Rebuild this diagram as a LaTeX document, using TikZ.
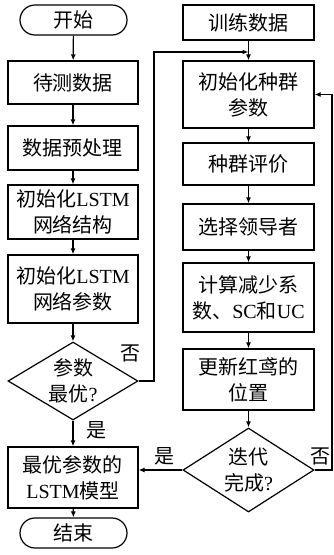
\documentclass[tikz,border=0pt]{standalone}
\usepackage{fontspec}
\setmainfont{Noto Sans CJK SC}
\newfontfamily\lat{Liberation Serif}
\usetikzlibrary{shapes.geometric,arrows.meta}
\begin{document}
\begin{tikzpicture}[x=1pt,y=-1pt,
  every node/.style={font=\fontsize{20}{26}\selectfont},
  box/.style={draw,rectangle,line width=1.2pt,align=center,inner sep=0pt,minimum width=130pt},
  term/.style={draw,rectangle,rounded corners=15pt,line width=1.2pt,inner sep=0pt,minimum width=107pt,minimum height=30pt},
  dec/.style={draw,diamond,line width=1.2pt,inner sep=0pt,minimum width=130pt,minimum height=#1},
  lbl/.style={inner sep=0pt},
  arr/.style={draw,line width=1.2pt,-{Latex[length=6pt,width=5pt]}},
  ln/.style={draw,line width=1.2pt}]
\useasboundingbox (0,0) rectangle (334,555);
% left column
\node[term] (s) at (73.5,20) {开始};
\node[box,minimum height=43pt] (d1) at (73,82.5) {待测数据};
\node[box,minimum height=44pt] (d2) at (73,148) {数据预处理};
\node[box,minimum height=54pt] (d3) at (73,212) {初始化{\lat LSTM}\\网络结构};
\node[box,minimum height=68pt] (d4) at (73,289) {初始化{\lat LSTM}\\网络参数};
\node[dec=78pt] (q1) at (73,381) {};
\node[lbl,align=center] (q1t) at (q1) {参数\\最优{\lat ?}};
\node[box,minimum height=61pt] (d5) at (73,477.5) {最优参数的\\{\lat LSTM}模型};
\node[term] (e) at (73.5,533) {结束};
% right column
\node[box,minimum width=131pt,minimum height=35pt] (r0) at (248.5,22.5) {训练数据};
\node[box,minimum width=131pt,minimum height=67pt] (r1) at (248.5,94.5) {初始化种群\\参数};
\node[box,minimum width=131pt,minimum height=42pt] (r2) at (248.5,164) {种群评价};
\node[box,minimum width=131pt,minimum height=46pt] (r3) at (248.5,227) {选择领导者};
\node[box,minimum width=131pt,minimum height=69pt] (r4) at (248.5,297.5) {计算减少系\\数、{\lat SC}和{\lat UC}};
\node[box,minimum width=131pt,minimum height=61pt] (r5) at (248.5,379.5) {更新红鸢的\\位置};
\node[dec=84pt,minimum width=131pt] (q2) at (248.5,470) {};
\node[lbl,align=center] (q2t) at (q2) {迭代\\完成{\lat ?}};
% labels
\node[lbl] (no1) at (130,353) {否};
\node[lbl] (yes1) at (96,430) {是};
\node[lbl] (yes2) at (164,456) {是};
\node[lbl] (no2) at (320,456) {否};
% helper coordinates
\coordinate (cl) at (154,0);
\coordinate (m) at (248.5,52);
\coordinate (cr) at (332,0);
% left arrows
\draw[arr] (s) -- (d1);
\draw[arr] (d1) -- (d2);
\draw[arr] (d2) -- (d3);
\draw[arr] (d3) -- (d4);
\draw[arr] (d4) -- (q1);
\draw[arr] (q1) -- (d5);
\draw[arr] (d5) -- (e);
% right arrows
\draw[arr] (r0) -- (r1);
\draw[arr] (r1) -- (r2);
\draw[arr] (r2) -- (r3);
\draw[arr] (r3) -- (r4);
\draw[arr] (r4) -- (r5);
\draw[arr] (r5) -- (q2);
% loops
\draw[arr] (q1.east) -- (q1.east -| cl) |- (m);
\draw[arr] (q2.east) -- (q2.east -| cr) |- (r1.east);
\draw[arr] (q2.west) -- (q2.west -| d5.east);
\end{tikzpicture}
\end{document}
